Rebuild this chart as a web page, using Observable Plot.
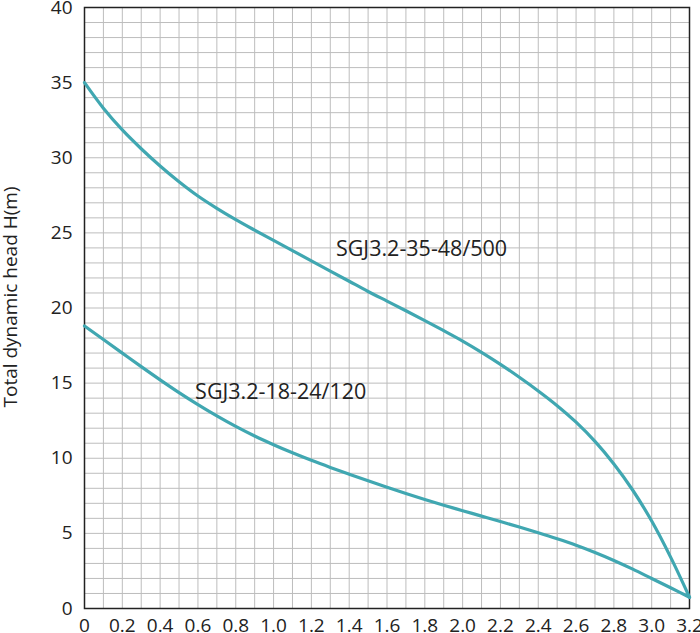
<!DOCTYPE html>
<html><head><meta charset="utf-8">
<script src="https://cdn.jsdelivr.net/npm/d3@7"></script>
<script src="https://cdn.jsdelivr.net/npm/@observablehq/plot@0.6"></script>
<style>html,body{margin:0;padding:0;background:#fff;} #chart svg{display:block;}</style>
</head><body><div id="chart"></div>
<script>
const flow = [0,0.1,0.2,0.3,0.4,0.5,0.6,0.7,0.8,0.9,1.0,1.1,1.2,1.3,1.4,1.5,1.6,1.7,1.8,1.9,2.0,2.1,2.2,2.3,2.4,2.5,2.6,2.7,2.8,2.9,3.0,3.1,3.2];
const head500 = [35.0,33.3,31.85,30.6,29.45,28.4,27.45,26.63,25.88,25.18,24.5,23.82,23.14,22.46,21.78,21.1,20.46,19.82,19.16,18.49,17.8,17.05,16.25,15.39,14.48,13.5,12.4,11.12,9.62,7.87,5.82,3.42,0.75];
const head120 = [18.8,17.9,17.0,16.1,15.22,14.37,13.57,12.82,12.12,11.48,10.9,10.36,9.86,9.39,8.94,8.5,8.07,7.65,7.25,6.87,6.51,6.15,5.79,5.42,5.04,4.64,4.21,3.73,3.2,2.62,2.0,1.38,0.75];
const curveNames = ["SGJ3.2-35-48/500","SGJ3.2-18-24/120"];
const labelX = [1.33, 0.585];
const labelY = [23.9, 14.4];
const xTicks = [0,0.2,0.4,0.6,0.8,1.0,1.2,1.4,1.6,1.8,2.0,2.2,2.4,2.6,2.8,3.0,3.2];
const yTicks = [0,5,10,15,20,25,30,35,40];
const xGrid = d3.range(0,33).map(i => i/10);
const yGrid = d3.range(0,41);
const yTitle = "Total dynamic head H(m)";

const series = [head500, head120];
const rows = curveNames.flatMap((name,k) => flow.map((q,i) => ({name, q, h: series[k][i]})));
const labels = curveNames.map((name,i) => ({name, x: labelX[i], y: labelY[i]}));

const chart = Plot.plot({
  width: 700, height: 633,
  marginLeft: 84, marginRight: 11, marginTop: 7, marginBottom: 25,
  style: {fontFamily: "'Open Sans', sans-serif", fontSize: "19px", color: "#222", background: "#fff"},
  x: {domain: [0, 3.2]},
  y: {domain: [0, 40]},
  marks: [
    Plot.ruleX(xGrid, {stroke: "#bdbdbd", strokeWidth: 1}),
    Plot.ruleY(yGrid, {stroke: "#bdbdbd", strokeWidth: 1}),
    Plot.frame({stroke: "#222", strokeWidth: 1.5}),
    Plot.line(rows, {x: "q", y: "h", z: "name", stroke: "#40a7b1", strokeWidth: 3.2, curve: "catmull-rom", strokeLinecap: "round"}),
    Plot.text(labels, {x: "x", y: "y", text: "name", textAnchor: "start", fontSize: 21.5, fill: "#222"}),
    Plot.axisX(xTicks, {tickSize: 0, tickPadding: 10, tickFormat: d => d === 0 ? "0" : d.toFixed(1), fontSize: 19, fill: "#222", label: null}),
    Plot.axisY(yTicks, {tickSize: 0, tickPadding: 12, fontSize: 19, fill: "#222", label: null}),
    Plot.text([yTitle], {frameAnchor: "left", rotate: -90, dx: -74, dy: -11, fontSize: 19, textAnchor: "middle", lineAnchor: "middle", fill: "#222"})
  ]
});
document.getElementById("chart").appendChild(chart);
</script>
</body></html>
